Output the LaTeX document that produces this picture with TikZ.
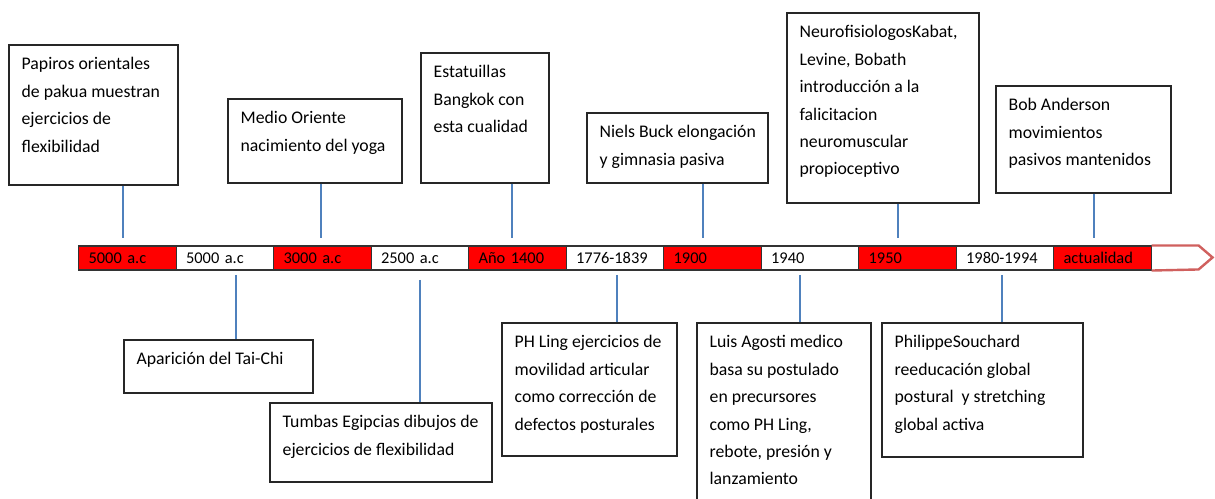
\documentclass[tikz,border=0pt]{standalone}
\usepackage{fontspec}
\setmainfont{Carlito}
\usepackage{tikz}
\usepackage{xcolor}
\usetikzlibrary{positioning,fit,calc}
\definecolor{segred}{HTML}{FF0000}
\definecolor{linkblue}{HTML}{4F81BD}
\definecolor{tipred}{HTML}{D0605E}

\tikzset{
  eventbox/.style={draw=black!85, line width=0.9pt, fill=white, inner sep=0pt},
  eventtxt/.style={align=left, inner sep=0pt, font=\fontsize{13.3}{20.6}\selectfont},
  yearseg/.style={draw=black!80, line width=0.8pt, anchor=west, minimum width=73.125pt,
    minimum height=18pt, text width=58pt, align=left, inner xsep=7.5pt, inner ysep=0pt,
    font=\fontsize{12.3}{14}\selectfont},
  link/.style={draw=linkblue, line width=2pt},
  tipline/.style={draw=tipred, line width=1.8pt, line join=miter}
}

\begin{document}
\begin{tikzpicture}[x=0.75pt, y=-0.75pt]
    \useasboundingbox (0,0) rectangle (1215,499);

    % timeline bar
    \foreach \lab [count=\i] in {5000 a.c, 5000 a.c, 3000 a.c, 2500 a.c, Año 1400, 1776-1839,
        1900, 1940, 1950, 1980-1994, actualidad}{
      \ifodd\i \def\segfill{segred}\else \def\segfill{white}\fi
      \node[yearseg, fill=\segfill] (s\i) at ({78+97.5*(\i-1)},258) {\lab};
    }
    \draw[tipline] (s11.north east) -- ++(47,0) -- ++(14,12) -- ++(-14,12) -- (s11.south east);

    % events above the bar
    \node[eventbox, fit={(9,45) (178,185)}] (papiros) {};
    \node[eventtxt, below right=9.5pt and 9.75pt of papiros.north west] (papirostxt)
      {Papiros orientales\\de pakua muestran\\ejercicios de\\flexibilidad};
    \node[eventbox, fit={(228,99) (402,183)}] (oriente) {};
    \node[eventtxt, below right=9.5pt and 9.75pt of oriente.north west] (orientetxt)
      {Medio Oriente\\nacimiento del yoga};
    \node[eventbox, fit={(421,53) (549,183)}] (bangkok) {};
    \node[eventtxt, below right=9.5pt and 9.75pt of bangkok.north west] (bangkoktxt)
      {Estatuillas\\Bangkok con\\esta cualidad};
    \node[eventbox, fit={(587,113) (768,183)}] (buck) {};
    \node[eventtxt, below right=9.5pt and 9.75pt of buck.north west] (bucktxt)
      {Niels Buck elongación\\y gimnasia pasiva};
    \node[eventbox, fit={(787,13) (979,203)}] (kabat) {};
    \node[eventtxt, below right=9.5pt and 9.75pt of kabat.north west] (kabattxt)
      {NeurofisiologosKabat,\\Levine, Bobath\\introducción a la\\falicitacion\\neuromuscular\\propioceptivo};
    \node[eventbox, fit={(996,86) (1171,193)}] (anderson) {};
    \node[eventtxt, below right=9.5pt and 9.75pt of anderson.north west] (andersontxt)
      {Bob Anderson\\movimientos\\pasivos mantenidos};

    % events below the bar
    \node[eventbox, fit={(124,340) (313,393)}] (taichi) {};
    \node[eventtxt, below right=9.5pt and 9.75pt of taichi.north west] (taichitxt)
      {Aparición del Tai-Chi};
    \node[eventbox, fit={(270,403) (492,482)}] (tumbas) {};
    \node[eventtxt, below right=9.5pt and 9.75pt of tumbas.north west] (tumbastxt)
      {Tumbas Egipcias dibujos de\\ejercicios de flexibilidad};
    \node[eventbox, fit={(502,323) (677,456)}] (ling) {};
    \node[eventtxt, below right=9.5pt and 9.75pt of ling.north west] (lingtxt)
      {PH Ling ejercicios de\\movilidad articular\\como corrección de\\defectos posturales};
    \node[eventbox, fit={(697,323) (871,506)}] (agosti) {};
    \node[eventtxt, below right=9.5pt and 9.75pt of agosti.north west] (agostitxt)
      {Luis Agosti medico\\basa su postulado\\en precursores\\como PH Ling,\\rebote, presión y\\lanzamiento};
    \node[eventbox, fit={(882,323) (1083,457)}] (souchard) {};
    \node[eventtxt, below right=9.5pt and 9.75pt of souchard.north west] (souchardtxt)
      {PhilippeSouchard\\reeducación global\\postural~ y stretching\\global activa};

    % connectors
    \coordinate (up1) at (123,238);
    \coordinate (up2) at (321,238);
    \coordinate (up3) at (512,238);
    \coordinate (up4) at (703,238);
    \coordinate (up5) at (898,238);
    \coordinate (up6) at (1094,238);
    \coordinate (dn1) at (236,275);
    \coordinate (dn2) at (420,280);
    \coordinate (dn3) at (617,275);
    \coordinate (dn4) at (800,275);
    \coordinate (dn5) at (1002,275);
    \draw[link] (papiros.south -| up1) -- (up1);
    \draw[link] (oriente.south -| up2) -- (up2);
    \draw[link] (bangkok.south -| up3) -- (up3);
    \draw[link] (buck.south -| up4) -- (up4);
    \draw[link] (kabat.south -| up5) -- (up5);
    \draw[link] (anderson.south -| up6) -- (up6);
    \draw[link] (dn1) -- (taichi.north -| dn1);
    \draw[link] (dn2) -- (tumbas.north -| dn2);
    \draw[link] (dn3) -- (ling.north -| dn3);
    \draw[link] (dn4) -- (agosti.north -| dn4);
    \draw[link] (dn5) -- (souchard.north -| dn5);
  \end{tikzpicture}
\end{document}
